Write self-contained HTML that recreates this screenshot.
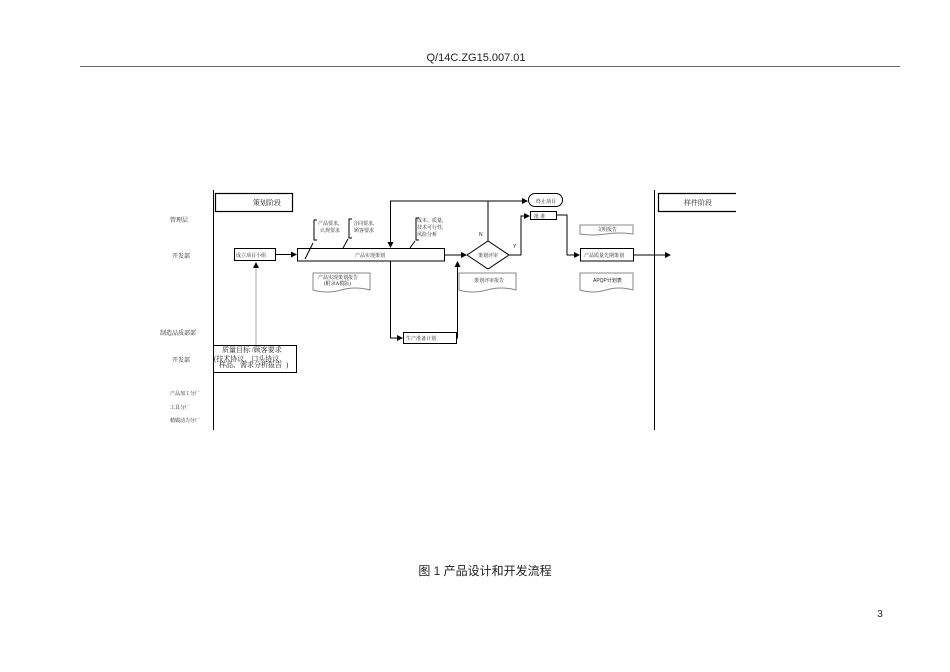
<!DOCTYPE html>
<html><head><meta charset="utf-8"><style>
html,body{margin:0;padding:0;background:#fff}
svg{display:block}
text{font-family:"Liberation Serif","Noto Serif CJK SC",serif;fill:#222}
.s{font-family:"Liberation Sans","Noto Sans CJK SC",sans-serif}
</style></head><body>
<svg width="950" height="672" viewBox="0 0 950 672" xmlns="http://www.w3.org/2000/svg">
<defs><marker id="a" markerWidth="6" markerHeight="6" refX="5" refY="3" orient="auto" markerUnits="userSpaceOnUse"><path d="M0,0 L6,3 L0,6 z" fill="#000"/></marker></defs>
<text x="476" y="61" class="s" font-size="11" text-anchor="middle">Q/14C.ZG15.007.01</text>
<line x1="80" y1="66.5" x2="900" y2="66.5" stroke="#666" stroke-width="1"/>

<g stroke="#000" fill="none" stroke-width="1">
<line x1="213.5" y1="190" x2="213.5" y2="430"/>
<line x1="654.5" y1="190" x2="654.5" y2="430"/>
<rect x="215.5" y="193.5" width="77" height="18" stroke-width="1.2"/>
<path d="M736,193.5 H658.5 V211.5 H736" stroke-width="1.2"/>
<rect x="234.5" y="248.5" width="41" height="12"/>
<rect x="297.5" y="248.5" width="147" height="12.5"/>
<rect x="403.5" y="332.5" width="53" height="11"/>
<rect x="530.5" y="211.5" width="26" height="8"/>
<rect x="580.5" y="248.5" width="53" height="12.5"/>
<rect x="528.5" y="193.5" width="34" height="13" rx="6.5"/>
<path d="M467,255 L488,241 L509,255 L488,269 z"/>
<rect x="213.5" y="345.5" width="83" height="27"/>
<line x1="275" y1="254.5" x2="296" y2="254.5" marker-end="url(#a)"/>
<line x1="444" y1="255" x2="466" y2="255" marker-end="url(#a)"/>
<path d="M509,255 H521 V216 H529" marker-end="url(#a)"/>
<path d="M556,215 H567 V255 H579" marker-end="url(#a)"/>
<line x1="633" y1="255" x2="670" y2="255" marker-end="url(#a)"/>
<path d="M488,241 V201 H527" marker-end="url(#a)"/>
<path d="M390,201 H488"/>
<line x1="390.5" y1="201" x2="390.5" y2="247" marker-end="url(#a)"/>
<path d="M390.5,261 V338 H402" marker-end="url(#a)"/>
<path d="M456,338 H457.5 V262" marker-end="url(#a)"/>
<line x1="256" y1="345" x2="256" y2="263" stroke="#aaa" marker-end="url(#a)"/>
<path d="M317,220 H314 V240 H317"/><line x1="313" y1="243" x2="305" y2="259"/>
<path d="M352,219 H349 V238 H352"/><line x1="348" y1="239" x2="343" y2="248"/>
<path d="M419,218 H416 V240 H419"/><line x1="415" y1="241" x2="410" y2="248"/>
<g stroke="#888">
<path d="M313,273 H370 V290 Q355,286 341,290 Q327,294 313,290 z"/>
<path d="M459,273 H516 V290 Q501,286 487,290 Q473,294 459,290 z"/>
<path d="M580,225 H633 V234 Q619,232 606,234 Q593,236 580,234 z"/>
<path d="M580,273 H633 V290 Q619,286 606,290 Q593,294 580,290 z"/>
</g>
</g>

<g font-size="6">
<text x="253" y="205" font-size="7">策划阶段</text>
<text x="684" y="205" font-size="7">样件阶段</text>
<text x="170" y="222">管理层</text>
<text x="172" y="258">开发部</text>
<text x="160" y="335">制造品质部部</text>
<text x="172" y="362">开发部</text>
<text x="170" y="395" font-size="5">产品加工分厂</text>
<text x="170" y="409" font-size="5">工具分厂</text>
<text x="170" y="422" font-size="5">精锻动力分厂</text>
<text x="236" y="257" font-size="5">成立项目小组</text>
<text x="355" y="257" font-size="5">产品实现策划</text>
<text x="478" y="257" font-size="5">策划评审</text>
<text x="406" y="340" font-size="5">生产准备计划</text>
<text x="534" y="218" font-size="5">批  准</text>
<text x="536" y="203" font-size="5">终止项目</text>
<text x="584" y="257" font-size="5">产品质量先期策划</text>
<text x="479" y="236" class="s" font-size="5">N</text>
<text x="513" y="248" class="s" font-size="5">Y</text>
<text x="318" y="225" font-size="5">产品要求,</text><text x="320" y="232" font-size="5">认规要求</text>
<text x="353" y="225" font-size="5">合同要求,</text><text x="354" y="232" font-size="5">顾客要求</text>
<text x="417" y="222" font-size="5">成本、质量,</text><text x="417" y="229" font-size="5">技术可行性,</text><text x="417" y="236" font-size="5">风险分析</text>
<text x="318" y="279" font-size="5">产品实现策划报告</text><text x="324" y="285" font-size="5">(附录A模版)</text>
<text x="474" y="282" font-size="5">策划评审报告</text>
<text x="597" y="231" font-size="5">文明报告</text>
<text x="593" y="282" font-size="5" class="s">APQP计划表</text>
<text x="222" y="352" font-size="7">质量目标  /顾客要求</text>
<text x="214" y="361" font-size="7">(技术协议、口头协议、</text>
<text x="219" y="367" font-size="7">样品、需求分析报告</text>
<text x="286" y="367" font-size="7">)</text>
</g>
<text x="485" y="575" class="s" font-size="12" text-anchor="middle">图 1  产品设计和开发流程</text>
<text x="880" y="617" class="s" font-size="10" text-anchor="middle">3</text>
</svg>
</body></html>
